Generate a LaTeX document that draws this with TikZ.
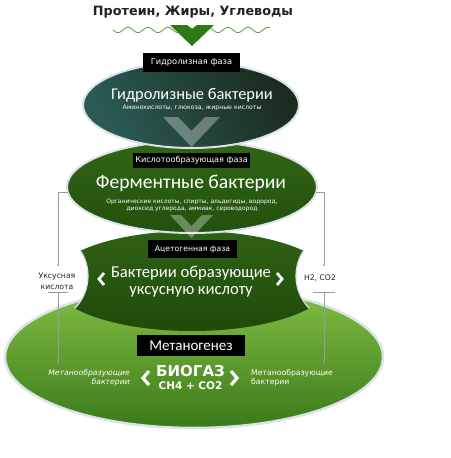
\documentclass[tikz,border=0pt]{standalone}
\usepackage{fontspec}
\setmainfont{DejaVu Sans}
\newfontfamily\calfont{Carlito}
\usetikzlibrary{arrows.meta}
\newcommand{\myfs}[2]{\fontsize{#1}{#2}\selectfont}
\definecolor{rimc}{HTML}{DCE2EA}
\definecolor{tealA}{HTML}{2B5A55}
\definecolor{tealB}{HTML}{1B2C1E}
\definecolor{grA}{HTML}{316516}
\definecolor{grB}{HTML}{22500D}
\definecolor{acA}{HTML}{2F6214}
\definecolor{acB}{HTML}{1F4A0B}
\definecolor{lgA}{HTML}{84C044}
\definecolor{lgB}{HTML}{3A7A1A}
\definecolor{wavec}{HTML}{5E9E3E}
\definecolor{chevg}{HTML}{2E7A14}
\definecolor{connc}{HTML}{9A9AA8}
\definecolor{titlec}{HTML}{222222}
\begin{document}
\begin{tikzpicture}[x=1pt,y=-1pt,
  phasebox/.style={fill=black,text=white,inner sep=0pt,minimum height=#1},
  phasebox/.default=18pt,
  bigtxt/.style={text=white,inner sep=0pt,align=center,font=\calfont\myfs{19}{17}},
  subtxt/.style={text=white,inner sep=0pt,align=center,font=\myfs{6}{7.6}},
  sidetxt/.style={text=titlec,inner sep=0pt,align=center,font=\myfs{7.7}{11}},
  conn/.style={draw=connc,line width=0.5pt},
  dotend/.style={-{Circle[length=1.6pt]}},
  softchev/.style={fill=white,fill opacity=0.33},
  wchev/.style={draw=white,line width=2.8pt,line cap=butt,line join=miter}
]
\useasboundingbox (0,0) rectangle (450,458);
\fill[white] (0,0) rectangle (450,458);

% title, wave and green chevron
\node[inner sep=0pt,text=titlec,font=\bfseries\myfs{12.8}{15}] (title) at (193,12) {Протеин, Жиры, Углеводы};
\draw[wavec,line width=0.8pt] plot[domain=113:270,samples=160] (\x,{30+2.6*sin(18*(\x-113))});
\fill[chevg] (170,25) -- (187,25) -- (192,29) -- (197,25) -- (214,25) -- (192,46) -- cycle;

% bottom ellipse
\path[draw=rimc,line width=2.5pt,top color=lgA,bottom color=lgB] (194,357) ellipse [x radius=189,y radius=71];

% acetogenic shape (ellipse cut by two circles)
\begin{scope}
  \clip (42,150) -- (42,230) arc[start angle=-90,end angle=90,radius=46] -- (42,400) -- (342,400) -- (342,322)
        arc[start angle=90,end angle=270,radius=46] -- (342,150) -- cycle;
  \path[top color=acA,bottom color=acB] (192,281) ellipse [x radius=140,y radius=50];
\end{scope}
\begin{scope}
  \clip (192,281) ellipse [x radius=140,y radius=50];
  \draw[rimc,line width=1.2pt] (42,276) circle[radius=46];
  \draw[rimc,line width=1.2pt] (342,276) circle[radius=46];
\end{scope}

% second ellipse
\path[draw=rimc,line width=2pt,top color=grA,bottom color=grB] (192,187) ellipse [x radius=125,y radius=46];
% first ellipse
\path[draw=rimc,line width=2pt,left color=tealA,right color=tealB,shading angle=120] (191,105) ellipse [x radius=108,y radius=43];

% soft chevrons
\fill[softchev] (163,117) -- (178,117) -- (191.5,131) -- (205,117) -- (220,117) -- (191.5,147) -- cycle;
\fill[softchev] (170,215) -- (181,215) -- (191.5,226) -- (202,215) -- (213,215) -- (191.5,238) -- cycle;

% phase labels
\node[phasebox=19pt,minimum width=97pt,font=\myfs{8.3}{10}] (p1) at (191.5,62.5) {Гидролизная фаза};
\node[phasebox=15pt,minimum width=117pt,font=\myfs{8.1}{10}] (p2) at (191.5,160.5) {Кислотообразующая фаза};
\node[phasebox=18pt,minimum width=89pt,font=\myfs{7.7}{10}] (p3) at (192.5,249) {Ацетогенная фаза};
\node[phasebox=21pt,minimum width=108pt,font=\calfont\myfs{15}{17}] (p4) at (191,345.5) {Метаногенез};

% ellipse 1 texts
\node[bigtxt,font=\calfont\myfs{16.4}{18}] (b1) at (192,95) {Гидролизные бактерии};
\node[subtxt,font=\myfs{6.2}{7}] (s1) at (192,107.5) {Аминокислоты, глюкоза, жирные кислоты};
% ellipse 2 texts
\node[bigtxt,font=\calfont\myfs{19.6}{20}] (b2) at (191,183) {Ферментные бактерии};
\node[subtxt] (s2) at (192,205.5) {Органические кислоты, спирты, альдегиды, водород,\\диоксид углерода, аммиак, сероводород};
% acetogenic texts
\node[bigtxt,font=\calfont\myfs{16.6}{17}] (b3) at (191,281.5) {Бактерии образующие\\уксусную кислоту};
\draw[wchev] (104,273) -- (99,279) -- (104,285);
\draw[wchev] (277,273) -- (282,279) -- (277,285);

% bottom texts
\node[inner sep=0pt,text=white,font=\bfseries\myfs{15}{15}] (bio) at (190.5,371) {БИОГАЗ};
\node[inner sep=0pt,text=white,font=\bfseries\myfs{10.5}{12}] (gas) at (190.5,385.5) {CH4 + CO2};
\draw[wchev,line width=3.2pt] (149,371) -- (143,378) -- (149,385);
\draw[wchev,line width=3.2pt] (231,371) -- (237,378) -- (231,385);
\node[inner sep=0pt,text=white,align=right,anchor=east,font=\itshape\myfs{7.7}{9}] (mb1) at (130,377.5) {Метанообразующие\\бактерии};
\node[inner sep=0pt,text=white,align=left,anchor=west,font=\myfs{7.7}{9}] (mb2) at (251,377.5) {Метанообразующие\\бактерии};

% side labels
\node[sidetxt] (ua) at (57,281) {Уксусная\\кислота};
\node[sidetxt] (h2) at (320,278.5) {H2, CO2};

% connectors
\coordinate (ltop) at (68,192);
\coordinate (lend) at (58,266);
\coordinate (lbarA) at (48,292);
\coordinate (lbarB) at (68,292);
\coordinate (lbarM) at (58,292);
\coordinate (lbot) at (58,364);
\coordinate (rtop) at (316,192);
\coordinate (rend) at (324,266);
\coordinate (rbarA) at (313,292);
\coordinate (rbarB) at (335,292);
\coordinate (rbarM) at (324,292);
\coordinate (rbot) at (324,364);
\draw[conn,dotend] (ltop) -| (lend);
\draw[conn] (lbarA) -- (lbarB);
\draw[conn,dotend] (lbarM) -- (lbot);
\draw[conn,dotend] (rtop) -| (rend);
\draw[conn] (rbarA) -- (rbarB);
\draw[conn,dotend] (rbarM) -- (rbot);
\end{tikzpicture}
\end{document}
